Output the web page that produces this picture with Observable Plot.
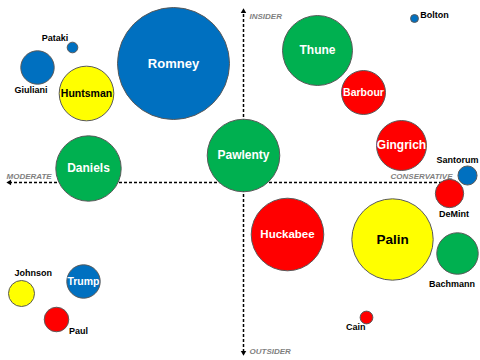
<!DOCTYPE html>
<html>
<head>
<meta charset="utf-8">
<script src="https://cdn.jsdelivr.net/npm/d3@7"></script>
<script src="https://cdn.jsdelivr.net/npm/@observablehq/plot@0.6"></script>
<style>
  html, body { margin: 0; padding: 0; background: #fff; }
  #chart svg { display: block; }
</style>
</head>
<body>
<div id="chart"></div>
<script>
// Candidates and readings (ideology: moderate − / conservative +; status: outsider − / insider +)
const names    = ["Romney","Pataki","Giuliani","Huntsman","Daniels","Pawlenty","Thune","Barbour","Gingrich","Bolton","Santorum","DeMint","Huckabee","Palin","Bachmann","Cain","Johnson","Trump","Paul"];
const ideology = [-7.0, -17.1, -20.6, -15.7, -15.5, 0.0, 7.4, 12.0, 15.8, 17.1, 22.4, 20.6, 4.4, 14.9, 21.4, 12.3, -22.2, -16.0, -18.7];
const status   = [11.9, 13.5, 11.5, 8.9, 1.4, 2.7, 13.2, 9.0, 3.7, 16.4, 0.7, -1.1, -5.2, -5.7, -7.1, -13.5, -11.1, -9.9, -13.7];
const support  = [100, 0.9, 8.9, 23.8, 34.1, 42, 39, 15.4, 19.9, 0.5, 2.9, 6.4, 42, 52.8, 13.7, 1.3, 5.4, 8.9, 4.8];
const groups   = ["B","B","B","Y","G","G","G","R","R","B","B","R","R","Y","G","R","Y","B","R"];
const groupDomain = ["B","G","R","Y"];
const insideLabels = ["Romney","Huntsman","Daniels","Pawlenty","Thune","Barbour","Gingrich","Huckabee","Palin","Trump"];
const axisLabels = {left: "MODERATE", right: "CONSERVATIVE", top: "INSIDER", bottom: "OUTSIDER"};

const data = names.map((n, i) => ({name: n, x: ideology[i], y: status[i], size: support[i], group: groups[i]}));

// layout / styling (not data)
const FONT = "Arial, 'Liberation Sans', sans-serif";
const groupColors = ["#0070C0", "#00B050", "#FF0000", "#FFFF00"];
const innerSize = {Romney: 13, Huntsman: 10.5, Daniels: 12, Pawlenty: 12, Thune: 12, Barbour: 10.5, Gingrich: 12, Huckabee: 11.5, Palin: 13.5, Trump: 10.5};
const outerOffset = {
  Pataki: [-17.5, -9], Giuliani: [-6.4, 22.3], Bolton: [20, -3], Santorum: [-10, -15.7],
  DeMint: [4.5, 20.3], Bachmann: [-5.4, 31], Cain: [-10.7, 9.7], Johnson: [11.8, -20.7], Paul: [22, 11.4]
};

const inside = data.filter(d => insideLabels.includes(d.name));
const outside = data.filter(d => !insideLabels.includes(d.name));

const axisStyle = {stroke: "#000", strokeWidth: 1.5, strokeDasharray: "3,2"};
const gray = "#7f7f7f";
const axisText = {fontSize: 8, fontStyle: "italic", fontWeight: "bold", fill: gray, fontFamily: FONT};

const marks = [
  Plot.ruleY([0], {x1: -23.4, x2: 20.7, ...axisStyle}),
  Plot.ruleX([0], {y1: -17.0, y2: 17.1, ...axisStyle}),
  Plot.dot([{x: -23.4, y: 0}], {x: "x", y: "y", symbol: "triangle2", rotate: -90, r: 2.6, fill: "#000"}),
  Plot.dot([{x: 0, y: 17.1}], {x: "x", y: "y", symbol: "triangle2", rotate: 0, r: 2.6, fill: "#000"}),
  Plot.dot([{x: 0, y: -17.0}], {x: "x", y: "y", symbol: "triangle2", rotate: 180, r: 2.6, fill: "#000"}),
  Plot.text([axisLabels.left], {x: -23.7, y: 0, dy: -6, text: d => d, textAnchor: "start", ...axisText}),
  Plot.text([axisLabels.right], {x: 20.9, y: 0, dy: -6, text: d => d, textAnchor: "end", ...axisText}),
  Plot.text([axisLabels.top], {x: 0, y: 17.1, dx: 6, dy: 5, text: d => d, textAnchor: "start", ...axisText}),
  Plot.text([axisLabels.bottom], {x: 0, y: -17.0, dx: 6, dy: -1, text: d => d, textAnchor: "start", ...axisText}),
  Plot.dot(data, {x: "x", y: "y", r: "size", fill: "group", stroke: "#595959", strokeWidth: 1}),
  Plot.text(inside, {x: "x", y: "y", text: "name", fontSize: d => innerSize[d.name], fontWeight: "bold", fontFamily: FONT,
    fill: d => d.group === "Y" ? "#000" : "#fff"}),
  ...outside.map(d => Plot.text([d], {x: "x", y: "y", text: "name", dx: outerOffset[d.name][0], dy: outerOffset[d.name][1],
    fontSize: 9, fontWeight: "bold", fill: "#000", fontFamily: FONT}))
];

const chart = Plot.plot({
  width: 480,
  height: 360,
  margin: 0,
  x: {domain: [-24.3, 23.7], axis: null},
  y: {domain: [-17.8, 18.2], axis: null},
  r: {type: "sqrt", domain: [0, 100], range: [0, 56]},
  color: {type: "ordinal", domain: groupDomain, range: groupColors},
  style: {background: "#fff"},
  marks
});
document.getElementById("chart").appendChild(chart);
</script>
</body>
</html>
